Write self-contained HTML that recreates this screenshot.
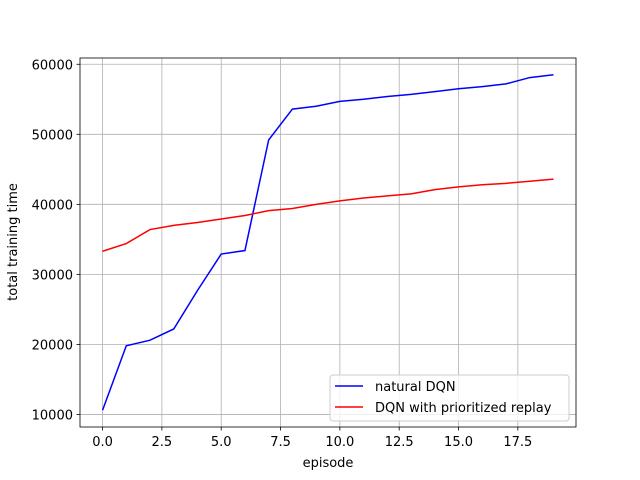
<!DOCTYPE html>
<html><head><meta charset="utf-8"><style>
body{margin:0;background:#fff}
svg{display:block;font-family:"DejaVu Sans","Liberation Sans",sans-serif}
</style></head><body>
<svg id="chart" width="640" height="480">
<rect width="640" height="480" fill="#fff"/>
<g id="grid"></g>
<g id="series"></g>
<rect x="80" y="58" width="496" height="369" fill="none" stroke="#000" stroke-width="0.8"/>
<g id="ticks"></g>
<text x="328" y="467" font-size="13" text-anchor="middle">episode</text>
<text transform="translate(17,242) rotate(-90)" font-size="13" text-anchor="middle">total training time</text>
<g>
<rect x="330" y="375" width="239" height="46" rx="3" fill="#fff" fill-opacity="0.8" stroke="#ccc"/>
<line x1="335" y1="386" x2="363" y2="386" stroke="blue" stroke-width="1.5"/>
<text x="375" y="391" font-size="13">natural DQN</text>
<line x1="335" y1="407" x2="363" y2="407" stroke="red" stroke-width="1.5"/>
<text x="375" y="412" font-size="13">DQN with prioritized replay</text>
</g>
</svg>
<script>
const episodes=[0,1,2,3,4,5,6,7,8,9,10,11,12,13,14,15,16,17,18,19];
const naturalDQN=[10600,19800,20600,22200,27700,32900,33400,49200,53600,54000,54700,55000,55400,55700,56100,56500,56800,57200,58100,58500];
const prioritizedDQN=[33300,34400,36400,37000,37400,37900,38400,39100,39400,40000,40500,40900,41200,41500,42100,42500,42800,43000,43300,43600];
const xTicks=[0,2.5,5,7.5,10,12.5,15,17.5];
const xTickLabels=["0.0","2.5","5.0","7.5","10.0","12.5","15.0","17.5"];
const yTicks=[10000,20000,30000,40000,50000,60000];
const yTickLabels=["10000","20000","30000","40000","50000","60000"];
const NS="http://www.w3.org/2000/svg";
const allY=naturalDQN.concat(prioritizedDQN);
let ymin=Math.min(...allY),ymax=Math.max(...allY),yr=ymax-ymin;ymin-=yr*0.05;ymax+=yr*0.05;
let xmin=Math.min(...episodes),xmax=Math.max(...episodes),xr=xmax-xmin;xmin-=xr*0.05;xmax+=xr*0.05;
const L=80,R=576,T=58,B=427;
const sx=v=>L+(v-xmin)/(xmax-xmin)*(R-L);
const sy=v=>B-(v-ymin)/(ymax-ymin)*(B-T);
function mk(t,a,p){const e=document.createElementNS(NS,t);for(const k in a)e.setAttribute(k,a[k]);p.appendChild(e);return e;}
const grid=document.getElementById('grid'),ticks=document.getElementById('ticks'),ser=document.getElementById('series');
xTicks.forEach((v,i)=>{const x=sx(v);
const g=mk('line',{x1:x,x2:x,y1:T,y2:B,stroke:'#b0b0b0','stroke-width':0.8},grid);


mk('line',{x1:x,x2:x,y1:B,y2:B+3.5,stroke:'#000','stroke-width':0.8},ticks);
const t=mk('text',{x:x,y:B+19,'font-size':13,'text-anchor':'middle'},ticks);t.textContent=xTickLabels[i];

});
yTicks.forEach((v,i)=>{const y=sy(v);
const g=mk('line',{x1:L,x2:R,y1:y,y2:y,stroke:'#b0b0b0','stroke-width':0.8},grid);


mk('line',{x1:L-3.5,x2:L,y1:y,y2:y,stroke:'#000','stroke-width':0.8},ticks);
const t=mk('text',{x:L-7,y:y+5,'font-size':13,'text-anchor':'end'},ticks);t.textContent=yTickLabels[i];

});
function line(vals,color,name){const pts=episodes.map((e,i)=>sx(e)+','+sy(vals[i])).join(' ');
const p=mk('polyline',{points:pts,fill:'none',stroke:color,'stroke-width':1.5},ser);

}
line(naturalDQN,'blue','natural-dqn-line');
line(prioritizedDQN,'red','prioritized-dqn-line');
</script>
</body></html>
